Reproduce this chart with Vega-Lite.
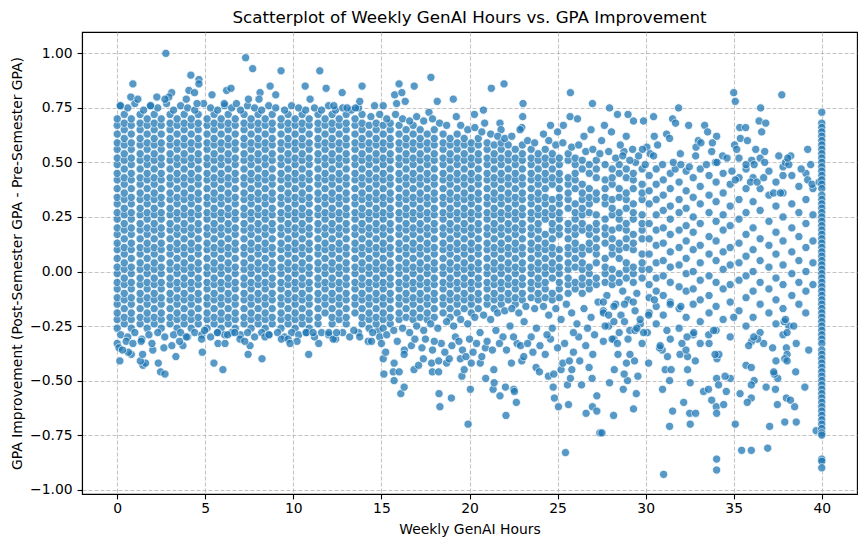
{
  "$schema": "https://vega.github.io/schema/vega-lite/v6.json",
  "width": 775,
  "height": 462,
  "autosize": "none",
  "padding": {"left": 82, "top": 32, "right": 9, "bottom": 53},
  "title": {
    "text": "Scatterplot of Weekly GenAI Hours vs. GPA Improvement",
    "fontSize": 16.7,
    "fontWeight": "normal",
    "color": "black",
    "offset": 5
  },
  "data": {
    "format": {"type": "csv", "parse": {"hours": "number", "gpa_change": "number"}},
    "values": "hours,gpa_change\n0,-0.26\n0,-0.22\n0,-0.19\n0,-0.15\n0,-0.12\n0,-0.08\n0,-0.05\n0,-0.01\n0,0.02\n0,0.06\n0,0.1\n0,0.13\n0,0.17\n0,0.2\n0,0.24\n0,0.27\n0,0.31\n0,0.34\n0,0.38\n0,0.42\n0,0.45\n0,0.49\n0,0.52\n0,0.56\n0,0.59\n0,0.63\n0,0.67\n0,0.7\n0.4,-0.24\n0.4,-0.21\n0.4,-0.17\n0.4,-0.13\n0.4,-0.1\n0.4,-0.06\n0.4,-0.03\n0.4,0.01\n0.4,0.04\n0.4,0.08\n0.4,0.11\n0.4,0.15\n0.4,0.19\n0.4,0.22\n0.4,0.26\n0.4,0.29\n0.4,0.33\n0.4,0.36\n0.4,0.4\n0.4,0.43\n0.4,0.47\n0.4,0.51\n0.4,0.54\n0.4,0.58\n0.4,0.61\n0.4,0.65\n0.4,0.68\n0.4,0.72\n0.8,-0.26\n0.8,-0.22\n0.8,-0.19\n0.8,-0.15\n0.8,-0.12\n0.8,-0.08\n0.8,-0.05\n0.8,-0.01\n0.8,0.02\n0.8,0.06\n0.8,0.1\n0.8,0.13\n0.8,0.17\n0.8,0.2\n0.8,0.24\n0.8,0.27\n0.8,0.31\n0.8,0.34\n0.8,0.38\n0.8,0.42\n0.8,0.45\n0.8,0.49\n0.8,0.52\n0.8,0.56\n0.8,0.59\n0.8,0.63\n0.8,0.67\n0.8,0.7\n1.3,-0.24\n1.3,-0.21\n1.3,-0.17\n1.3,-0.13\n1.3,-0.1\n1.3,-0.06\n1.3,-0.03\n1.3,0.01\n1.3,0.04\n1.3,0.08\n1.3,0.11\n1.3,0.15\n1.3,0.19\n1.3,0.22\n1.3,0.26\n1.3,0.29\n1.3,0.33\n1.3,0.36\n1.3,0.4\n1.3,0.43\n1.3,0.47\n1.3,0.51\n1.3,0.54\n1.3,0.58\n1.3,0.61\n1.3,0.65\n1.3,0.68\n1.3,0.72\n1.7,-0.26\n1.7,-0.22\n1.7,-0.19\n1.7,-0.15\n1.7,-0.12\n1.7,-0.08\n1.7,-0.05\n1.7,-0.01\n1.7,0.02\n1.7,0.06\n1.7,0.1\n1.7,0.13\n1.7,0.17\n1.7,0.2\n1.7,0.24\n1.7,0.27\n1.7,0.31\n1.7,0.34\n1.7,0.38\n1.7,0.42\n1.7,0.45\n1.7,0.49\n1.7,0.52\n1.7,0.56\n1.7,0.59\n1.7,0.63\n1.7,0.67\n1.7,0.7\n2.1,-0.24\n2.1,-0.21\n2.1,-0.17\n2.1,-0.13\n2.1,-0.1\n2.1,-0.06\n2.1,-0.03\n2.1,0.01\n2.1,0.04\n2.1,0.08\n2.1,0.11\n2.1,0.15\n2.1,0.19\n2.1,0.22\n2.1,0.26\n2.1,0.29\n2.1,0.33\n2.1,0.36\n2.1,0.4\n2.1,0.43\n2.1,0.47\n2.1,0.51\n2.1,0.54\n2.1,0.58\n2.1,0.61\n2.1,0.65\n2.1,0.68\n2.1,0.72\n2.5,-0.26\n2.5,-0.22\n2.5,-0.19\n2.5,-0.15\n2.5,-0.12\n2.5,-0.08\n2.5,-0.05\n2.5,-0.01\n2.5,0.02\n2.5,0.06\n2.5,0.1\n2.5,0.13\n2.5,0.17\n2.5,0.2\n2.5,0.24\n2.5,0.27\n2.5,0.31\n2.5,0.34\n2.5,0.38\n2.5,0.42\n2.5,0.45\n2.5,0.49\n2.5,0.52\n2.5,0.56\n2.5,0.59\n2.5,0.63\n2.5,0.67\n2.5,0.7\n3,-0.24\n3,-0.21\n3,-0.17\n3,-0.13\n3,-0.1\n3,-0.06\n3,-0.03\n3,0.01\n3,0.04\n3,0.08\n3,0.11\n3,0.15\n3,0.19\n3,0.22\n3,0.26\n3,0.29\n3,0.33\n3,0.36\n3,0.4\n3,0.43\n3,0.47\n3,0.51\n3,0.54\n3,0.58\n3,0.61\n3,0.65\n3,0.68\n3,0.72\n3.4,-0.26\n3.4,-0.22\n3.4,-0.19\n3.4,-0.15\n3.4,-0.12\n3.4,-0.08\n3.4,-0.05\n3.4,-0.01\n3.4,0.02\n3.4,0.06\n3.4,0.1\n3.4,0.13\n3.4,0.17\n3.4,0.2\n3.4,0.24\n3.4,0.27\n3.4,0.31\n3.4,0.34\n3.4,0.38\n3.4,0.42\n3.4,0.45\n3.4,0.49\n3.4,0.52\n3.4,0.56\n3.4,0.59\n3.4,0.63\n3.4,0.67\n3.4,0.7\n3.8,-0.24\n3.8,-0.21\n3.8,-0.17\n3.8,-0.13\n3.8,-0.1\n3.8,-0.06\n3.8,-0.03\n3.8,0.01\n3.8,0.04\n3.8,0.08\n3.8,0.11\n3.8,0.15\n3.8,0.19\n3.8,0.22\n3.8,0.26\n3.8,0.29\n3.8,0.33\n3.8,0.36\n3.8,0.4\n3.8,0.43\n3.8,0.47\n3.8,0.51\n3.8,0.54\n3.8,0.58\n3.8,0.61\n3.8,0.65\n3.8,0.68\n3.8,0.72\n4.2,-0.26\n4.2,-0.22\n4.2,-0.19\n4.2,-0.15\n4.2,-0.12\n4.2,-0.08\n4.2,-0.05\n4.2,-0.01\n4.2,0.02\n4.2,0.06\n4.2,0.1\n4.2,0.13\n4.2,0.17\n4.2,0.2\n4.2,0.24\n4.2,0.27\n4.2,0.31\n4.2,0.34\n4.2,0.38\n4.2,0.42\n4.2,0.45\n4.2,0.49\n4.2,0.52\n4.2,0.56\n4.2,0.59\n4.2,0.63\n4.2,0.67\n4.2,0.7\n4.6,-0.24\n4.6,-0.21\n4.6,-0.17\n4.6,-0.13\n4.6,-0.1\n4.6,-0.06\n4.6,-0.03\n4.6,0.01\n4.6,0.04\n4.6,0.08\n4.6,0.11\n4.6,0.15\n4.6,0.19\n4.6,0.22\n4.6,0.26\n4.6,0.29\n4.6,0.33\n4.6,0.36\n4.6,0.4\n4.6,0.43\n4.6,0.47\n4.6,0.51\n4.6,0.54\n4.6,0.58\n4.6,0.61\n4.6,0.65\n4.6,0.68\n4.6,0.72\n5.1,-0.26\n5.1,-0.22\n5.1,-0.19\n5.1,-0.15\n5.1,-0.12\n5.1,-0.08\n5.1,-0.05\n5.1,-0.01\n5.1,0.02\n5.1,0.06\n5.1,0.1\n5.1,0.13\n5.1,0.17\n5.1,0.2\n5.1,0.24\n5.1,0.27\n5.1,0.31\n5.1,0.34\n5.1,0.38\n5.1,0.42\n5.1,0.45\n5.1,0.49\n5.1,0.52\n5.1,0.56\n5.1,0.59\n5.1,0.63\n5.1,0.67\n5.1,0.7\n5.5,-0.24\n5.5,-0.21\n5.5,-0.17\n5.5,-0.13\n5.5,-0.1\n5.5,-0.06\n5.5,-0.03\n5.5,0.01\n5.5,0.04\n5.5,0.08\n5.5,0.11\n5.5,0.15\n5.5,0.19\n5.5,0.22\n5.5,0.26\n5.5,0.29\n5.5,0.33\n5.5,0.36\n5.5,0.4\n5.5,0.43\n5.5,0.47\n5.5,0.51\n5.5,0.54\n5.5,0.58\n5.5,0.61\n5.5,0.65\n5.5,0.68\n5.5,0.72\n5.9,-0.26\n5.9,-0.22\n5.9,-0.19\n5.9,-0.15\n5.9,-0.12\n5.9,-0.08\n5.9,-0.05\n5.9,-0.01\n5.9,0.02\n5.9,0.06\n5.9,0.1\n5.9,0.13\n5.9,0.17\n5.9,0.2\n5.9,0.24\n5.9,0.27\n5.9,0.31\n5.9,0.34\n5.9,0.38\n5.9,0.42\n5.9,0.45\n5.9,0.49\n5.9,0.52\n5.9,0.56\n5.9,0.59\n5.9,0.63\n5.9,0.67\n5.9,0.7\n6.3,-0.24\n6.3,-0.21\n6.3,-0.17\n6.3,-0.13\n6.3,-0.1\n6.3,-0.06\n6.3,-0.03\n6.3,0.01\n6.3,0.04\n6.3,0.08\n6.3,0.11\n6.3,0.15\n6.3,0.19\n6.3,0.22\n6.3,0.26\n6.3,0.29\n6.3,0.33\n6.3,0.36\n6.3,0.4\n6.3,0.43\n6.3,0.47\n6.3,0.51\n6.3,0.54\n6.3,0.58\n6.3,0.61\n6.3,0.65\n6.3,0.68\n6.3,0.72\n6.7,-0.26\n6.7,-0.22\n6.7,-0.19\n6.7,-0.15\n6.7,-0.12\n6.7,-0.08\n6.7,-0.05\n6.7,-0.01\n6.7,0.02\n6.7,0.06\n6.7,0.1\n6.7,0.13\n6.7,0.17\n6.7,0.2\n6.7,0.24\n6.7,0.27\n6.7,0.31\n6.7,0.34\n6.7,0.38\n6.7,0.42\n6.7,0.45\n6.7,0.49\n6.7,0.52\n6.7,0.56\n6.7,0.59\n6.7,0.63\n6.7,0.67\n6.7,0.7\n7.2,-0.24\n7.2,-0.21\n7.2,-0.17\n7.2,-0.13\n7.2,-0.1\n7.2,-0.06\n7.2,-0.03\n7.2,0.01\n7.2,0.04\n7.2,0.08\n7.2,0.11\n7.2,0.15\n7.2,0.19\n7.2,0.22\n7.2,0.26\n7.2,0.29\n7.2,0.33\n7.2,0.36\n7.2,0.4\n7.2,0.43\n7.2,0.47\n7.2,0.51\n7.2,0.54\n7.2,0.58\n7.2,0.61\n7.2,0.65\n7.2,0.68\n7.2,0.72\n7.6,-0.26\n7.6,-0.22\n7.6,-0.19\n7.6,-0.15\n7.6,-0.12\n7.6,-0.08\n7.6,-0.05\n7.6,-0.01\n7.6,0.02\n7.6,0.06\n7.6,0.1\n7.6,0.13\n7.6,0.17\n7.6,0.2\n7.6,0.24\n7.6,0.27\n7.6,0.31\n7.6,0.34\n7.6,0.38\n7.6,0.42\n7.6,0.45\n7.6,0.49\n7.6,0.52\n7.6,0.56\n7.6,0.59\n7.6,0.63\n7.6,0.67\n7.6,0.7\n8,-0.24\n8,-0.21\n8,-0.17\n8,-0.13\n8,-0.1\n8,-0.06\n8,-0.03\n8,0.01\n8,0.04\n8,0.08\n8,0.11\n8,0.15\n8,0.19\n8,0.22\n8,0.26\n8,0.29\n8,0.33\n8,0.36\n8,0.4\n8,0.43\n8,0.47\n8,0.51\n8,0.54\n8,0.58\n8,0.61\n8,0.65\n8,0.68\n8,0.72\n8.4,-0.26\n8.4,-0.22\n8.4,-0.19\n8.4,-0.15\n8.4,-0.12\n8.4,-0.08\n8.4,-0.05\n8.4,-0.01\n8.4,0.02\n8.4,0.06\n8.4,0.1\n8.4,0.13\n8.4,0.17\n8.4,0.2\n8.4,0.24\n8.4,0.27\n8.4,0.31\n8.4,0.34\n8.4,0.38\n8.4,0.42\n8.4,0.45\n8.4,0.49\n8.4,0.52\n8.4,0.56\n8.4,0.59\n8.4,0.63\n8.4,0.67\n8.4,0.7\n8.8,-0.24\n8.8,-0.21\n8.8,-0.17\n8.8,-0.13\n8.8,-0.1\n8.8,-0.06\n8.8,-0.03\n8.8,0.01\n8.8,0.04\n8.8,0.08\n8.8,0.11\n8.8,0.15\n8.8,0.19\n8.8,0.22\n8.8,0.26\n8.8,0.29\n8.8,0.33\n8.8,0.36\n8.8,0.4\n8.8,0.43\n8.8,0.47\n8.8,0.51\n8.8,0.54\n8.8,0.58\n8.8,0.61\n8.8,0.65\n8.8,0.68\n8.8,0.72\n9.3,-0.26\n9.3,-0.22\n9.3,-0.19\n9.3,-0.15\n9.3,-0.12\n9.3,-0.08\n9.3,-0.05\n9.3,-0.01\n9.3,0.02\n9.3,0.06\n9.3,0.1\n9.3,0.13\n9.3,0.17\n9.3,0.2\n9.3,0.24\n9.3,0.27\n9.3,0.31\n9.3,0.34\n9.3,0.38\n9.3,0.42\n9.3,0.45\n9.3,0.49\n9.3,0.52\n9.3,0.56\n9.3,0.59\n9.3,0.63\n9.3,0.67\n9.3,0.7\n9.7,-0.24\n9.7,-0.21\n9.7,-0.17\n9.7,-0.13\n9.7,-0.1\n9.7,-0.06\n9.7,-0.03\n9.7,0.01\n9.7,0.04\n9.7,0.08\n9.7,0.11\n9.7,0.15\n9.7,0.19\n9.7,0.22\n9.7,0.26\n9.7,0.29\n9.7,0.33\n9.7,0.36\n9.7,0.4\n9.7,0.43\n9.7,0.47\n9.7,0.51\n9.7,0.54\n9.7,0.58\n9.7,0.61\n9.7,0.65\n9.7,0.68\n9.7,0.72\n10.1,-0.26\n10.1,-0.22\n10.1,-0.19\n10.1,-0.15\n10.1,-0.12\n10.1,-0.08\n10.1,-0.05\n10.1,-0.01\n10.1,0.02\n10.1,0.06\n10.1,0.1\n10.1,0.13\n10.1,0.17\n10.1,0.2\n10.1,0.24\n10.1,0.27\n10.1,0.31\n10.1,0.34\n10.1,0.38\n10.1,0.42\n10.1,0.45\n10.1,0.49\n10.1,0.52\n10.1,0.56\n10.1,0.59\n10.1,0.63\n10.1,0.67\n10.1,0.7\n10.5,-0.24\n10.5,-0.21\n10.5,-0.17\n10.5,-0.13\n10.5,-0.1\n10.5,-0.06\n10.5,-0.03\n10.5,0.01\n10.5,0.04\n10.5,0.08\n10.5,0.11\n10.5,0.15\n10.5,0.19\n10.5,0.22\n10.5,0.26\n10.5,0.29\n10.5,0.33\n10.5,0.36\n10.5,0.4\n10.5,0.43\n10.5,0.47\n10.5,0.51\n10.5,0.54\n10.5,0.58\n10.5,0.61\n10.5,0.65\n10.5,0.68\n10.5,0.72\n10.9,-0.26\n10.9,-0.22\n10.9,-0.19\n10.9,-0.15\n10.9,-0.12\n10.9,-0.08\n10.9,-0.05\n10.9,-0.01\n10.9,0.02\n10.9,0.06\n10.9,0.1\n10.9,0.13\n10.9,0.17\n10.9,0.2\n10.9,0.24\n10.9,0.27\n10.9,0.31\n10.9,0.34\n10.9,0.38\n10.9,0.42\n10.9,0.45\n10.9,0.49\n10.9,0.52\n10.9,0.56\n10.9,0.59\n10.9,0.63\n10.9,0.67\n10.9,0.7\n11.4,-0.24\n11.4,-0.21\n11.4,-0.17\n11.4,-0.13\n11.4,-0.1\n11.4,-0.06\n11.4,-0.03\n11.4,0.01\n11.4,0.04\n11.4,0.08\n11.4,0.11\n11.4,0.15\n11.4,0.19\n11.4,0.22\n11.4,0.26\n11.4,0.29\n11.4,0.33\n11.4,0.36\n11.4,0.4\n11.4,0.43\n11.4,0.47\n11.4,0.51\n11.4,0.54\n11.4,0.58\n11.4,0.61\n11.4,0.65\n11.4,0.68\n11.4,0.72\n11.8,-0.19\n11.8,-0.15\n11.8,-0.12\n11.8,-0.08\n11.8,-0.05\n11.8,-0.01\n11.8,0.02\n11.8,0.06\n11.8,0.1\n11.8,0.13\n11.8,0.17\n11.8,0.2\n11.8,0.24\n11.8,0.27\n11.8,0.31\n11.8,0.34\n11.8,0.38\n11.8,0.42\n11.8,0.45\n11.8,0.49\n11.8,0.52\n11.8,0.56\n11.8,0.59\n11.8,0.63\n11.8,0.67\n11.8,0.7\n12.2,-0.24\n12.2,-0.21\n12.2,-0.17\n12.2,-0.13\n12.2,-0.1\n12.2,-0.06\n12.2,-0.03\n12.2,0.01\n12.2,0.04\n12.2,0.08\n12.2,0.11\n12.2,0.15\n12.2,0.19\n12.2,0.22\n12.2,0.26\n12.2,0.29\n12.2,0.33\n12.2,0.36\n12.2,0.4\n12.2,0.43\n12.2,0.47\n12.2,0.51\n12.2,0.54\n12.2,0.58\n12.2,0.61\n12.2,0.65\n12.2,0.68\n12.2,0.72\n12.6,-0.22\n12.6,-0.19\n12.6,-0.15\n12.6,-0.12\n12.6,-0.08\n12.6,-0.05\n12.6,-0.01\n12.6,0.02\n12.6,0.06\n12.6,0.1\n12.6,0.13\n12.6,0.17\n12.6,0.2\n12.6,0.24\n12.6,0.27\n12.6,0.31\n12.6,0.34\n12.6,0.38\n12.6,0.42\n12.6,0.45\n12.6,0.49\n12.6,0.52\n12.6,0.56\n12.6,0.59\n12.6,0.63\n12.6,0.67\n12.6,0.7\n13,-0.24\n13,-0.21\n13,-0.17\n13,-0.13\n13,-0.1\n13,-0.06\n13,-0.03\n13,0.01\n13,0.04\n13,0.08\n13,0.11\n13,0.15\n13,0.19\n13,0.22\n13,0.26\n13,0.29\n13,0.33\n13,0.36\n13,0.4\n13,0.43\n13,0.47\n13,0.51\n13,0.54\n13,0.58\n13,0.61\n13,0.65\n13,0.68\n13,0.72\n13.5,-0.19\n13.5,-0.15\n13.5,-0.12\n13.5,-0.08\n13.5,-0.05\n13.5,-0.01\n13.5,0.02\n13.5,0.06\n13.5,0.1\n13.5,0.13\n13.5,0.17\n13.5,0.2\n13.5,0.24\n13.5,0.27\n13.5,0.31\n13.5,0.34\n13.5,0.38\n13.5,0.42\n13.5,0.45\n13.5,0.49\n13.5,0.52\n13.5,0.56\n13.5,0.59\n13.5,0.63\n13.5,0.67\n13.5,0.7\n13.9,-0.24\n13.9,-0.21\n13.9,-0.17\n13.9,-0.13\n13.9,-0.1\n13.9,-0.06\n13.9,-0.03\n13.9,0.01\n13.9,0.04\n13.9,0.08\n13.9,0.11\n13.9,0.15\n13.9,0.19\n13.9,0.22\n13.9,0.26\n13.9,0.29\n13.9,0.33\n13.9,0.36\n13.9,0.4\n13.9,0.43\n13.9,0.47\n13.9,0.51\n13.9,0.54\n13.9,0.58\n13.9,0.61\n13.9,0.65\n13.9,0.68\n13.9,0.72\n0.2,0.76\n0.6,0.75\n1,0.77\n1.5,0.74\n1.9,0.76\n2.3,0.75\n2.8,0.77\n3.2,0.74\n3.6,0.76\n4,0.75\n4.4,0.74\n4.9,0.77\n5.3,0.75\n5.7,0.74\n6.1,0.76\n6.5,0.75\n7,0.74\n7.4,0.76\n7.8,0.75\n8.2,0.74\n8.6,0.76\n9,0.75\n9.5,0.74\n9.9,0.76\n10.3,0.75\n10.7,0.74\n11.2,0.75\n11.6,0.74\n12,0.76\n12.4,0.74\n12.8,0.75\n13.3,0.74\n13.7,0.75\n2.76,1\n0.89,0.86\n0.77,0.8\n1.17,0.79\n4.18,0.9\n4.64,0.88\n4.64,0.86\n4.07,0.83\n4.39,0.82\n4.53,0.77\n3.92,0.79\n3.09,0.82\n2.93,0.8\n2.71,0.79\n2.25,0.8\n5.38,0.81\n6.21,0.83\n6.46,0.84\n7.29,0.98\n7.69,0.93\n9.3,0.92\n8.11,0.82\n8.05,0.79\n8.68,0.85\n9,0.81\n7.45,0.79\n10.67,0.85\n11.5,0.92\n11.86,0.84\n10.95,0.79\n12.3,0.76\n6.08,0.77\n6.77,0.77\n0.17,0.76\n1.89,0.76\n12.77,0.82\n13.9,0.85\n13.05,0.75\n13.53,0.75\n13.77,0.78\n0.2,-0.29\n0.6,-0.3\n1,-0.28\n1.4,-0.31\n1.8,-0.29\n2.3,-0.28\n2.7,-0.3\n3.2,-0.29\n3.6,-0.28\n4,-0.3\n4.4,-0.28\n4.8,-0.29\n5.3,-0.3\n5.7,-0.28\n6.1,-0.29\n6.5,-0.28\n7,-0.29\n7.4,-0.28\n7.8,-0.3\n8.2,-0.28\n8.6,-0.29\n9.1,-0.28\n9.5,-0.3\n9.9,-0.28\n10.3,-0.29\n10.7,-0.28\n11.2,-0.3\n11.6,-0.28\n12,-0.29\n12.4,-0.31\n12.8,-0.28\n13.2,-0.3\n13.7,-0.28\n0.15,-0.41\n1.46,-0.43\n1.61,-0.42\n1.31,-0.41\n1.44,-0.38\n0.8,-0.38\n0.63,-0.37\n2.33,-0.42\n2.46,-0.46\n2.71,-0.47\n3.33,-0.39\n2.65,-0.35\n2.02,-0.36\n4.83,-0.37\n5.49,-0.42\n6,-0.45\n5.72,-0.33\n6.12,-0.33\n4.79,-0.31\n3.73,-0.34\n3.1,-0.34\n7.43,-0.38\n8.22,-0.4\n7.54,-0.34\n6.97,-0.31\n7.24,-0.32\n8.39,-0.3\n8.62,-0.29\n9.32,-0.31\n9.7,-0.31\n10.21,-0.32\n9.81,-0.33\n10.87,-0.38\n10.74,-0.28\n11.12,-0.28\n11.44,-0.33\n12.01,-0.28\n12.26,-0.31\n12.45,-0.28\n0.51,-0.32\n0,-0.33\n0.89,-0.33\n1.36,-0.32\n1.97,-0.33\n3.54,-0.32\n3.92,-0.3\n4.96,-0.27\n5.69,-0.28\n6.27,-0.29\n6.67,-0.28\n13.77,-0.3\n14.25,-0.32\n14.44,-0.32\n14.82,-0.27\n13.43,-0.27\n0.1,-0.35\n0.3,-0.36\n14.3,-0.26\n14.3,-0.22\n14.3,-0.19\n14.3,-0.15\n14.3,-0.12\n14.3,-0.08\n14.3,-0.05\n14.3,-0.01\n14.3,0.02\n14.3,0.06\n14.3,0.1\n14.3,0.13\n14.3,0.17\n14.3,0.2\n14.3,0.24\n14.3,0.27\n14.3,0.31\n14.3,0.34\n14.3,0.38\n14.3,0.42\n14.3,0.45\n14.3,0.49\n14.3,0.52\n14.3,0.56\n14.3,0.59\n14.3,0.63\n14.3,0.67\n14.7,-0.24\n14.7,-0.21\n14.7,-0.17\n14.7,-0.13\n14.7,-0.1\n14.7,-0.06\n14.7,-0.03\n14.7,0.01\n14.7,0.04\n14.7,0.08\n14.7,0.11\n14.7,0.15\n14.7,0.19\n14.7,0.22\n14.7,0.26\n14.7,0.29\n14.7,0.33\n14.7,0.36\n14.7,0.4\n14.7,0.43\n14.7,0.47\n14.7,0.51\n14.7,0.54\n14.7,0.58\n14.7,0.61\n14.7,0.65\n14.7,0.68\n15.1,-0.26\n15.1,-0.22\n15.1,-0.19\n15.1,-0.15\n15.1,-0.12\n15.1,-0.08\n15.1,-0.05\n15.1,-0.01\n15.1,0.02\n15.1,0.06\n15.1,0.1\n15.1,0.13\n15.1,0.17\n15.1,0.2\n15.1,0.24\n15.1,0.27\n15.1,0.31\n15.1,0.34\n15.1,0.38\n15.1,0.42\n15.1,0.45\n15.1,0.49\n15.1,0.52\n15.1,0.56\n15.1,0.59\n15.1,0.63\n15.1,0.67\n15.5,-0.24\n15.5,-0.21\n15.5,-0.17\n15.5,-0.13\n15.5,-0.1\n15.5,-0.06\n15.5,-0.03\n15.5,0.01\n15.5,0.04\n15.5,0.08\n15.5,0.11\n15.5,0.15\n15.5,0.19\n15.5,0.22\n15.5,0.26\n15.5,0.29\n15.5,0.33\n15.5,0.36\n15.5,0.4\n15.5,0.43\n15.5,0.47\n15.5,0.51\n15.5,0.54\n15.5,0.58\n15.5,0.61\n15.5,0.65\n15.5,0.68\n16,-0.22\n16,-0.19\n16,-0.15\n16,-0.12\n16,-0.08\n16,-0.05\n16,-0.01\n16,0.02\n16,0.06\n16,0.1\n16,0.13\n16,0.17\n16,0.2\n16,0.24\n16,0.27\n16,0.31\n16,0.34\n16,0.38\n16,0.42\n16,0.45\n16,0.49\n16,0.52\n16,0.56\n16,0.59\n16,0.63\n16,0.67\n16.4,-0.21\n16.4,-0.17\n16.4,-0.13\n16.4,-0.1\n16.4,-0.06\n16.4,-0.03\n16.4,0.01\n16.4,0.04\n16.4,0.08\n16.4,0.11\n16.4,0.15\n16.4,0.19\n16.4,0.22\n16.4,0.26\n16.4,0.29\n16.4,0.33\n16.4,0.36\n16.4,0.4\n16.4,0.43\n16.4,0.47\n16.4,0.51\n16.4,0.54\n16.4,0.58\n16.4,0.61\n16.4,0.65\n16.8,-0.22\n16.8,-0.19\n16.8,-0.15\n16.8,-0.12\n16.8,-0.08\n16.8,-0.05\n16.8,-0.01\n16.8,0.02\n16.8,0.06\n16.8,0.1\n16.8,0.13\n16.8,0.17\n16.8,0.2\n16.8,0.24\n16.8,0.27\n16.8,0.31\n16.8,0.34\n16.8,0.38\n16.8,0.42\n16.8,0.45\n16.8,0.49\n16.8,0.52\n16.8,0.56\n16.8,0.59\n16.8,0.63\n16.8,0.67\n17.2,-0.21\n17.2,-0.17\n17.2,-0.13\n17.2,-0.1\n17.2,-0.06\n17.2,-0.03\n17.2,0.01\n17.2,0.04\n17.2,0.08\n17.2,0.11\n17.2,0.15\n17.2,0.19\n17.2,0.22\n17.2,0.26\n17.2,0.29\n17.2,0.33\n17.2,0.36\n17.2,0.4\n17.2,0.43\n17.2,0.47\n17.2,0.51\n17.2,0.54\n17.2,0.58\n17.2,0.61\n17.2,0.65\n17.6,-0.22\n17.6,-0.19\n17.6,-0.15\n17.6,-0.12\n17.6,-0.08\n17.6,-0.05\n17.6,-0.01\n17.6,0.02\n17.6,0.06\n17.6,0.1\n17.6,0.13\n17.6,0.17\n17.6,0.2\n17.6,0.24\n17.6,0.27\n17.6,0.31\n17.6,0.34\n17.6,0.38\n17.6,0.42\n17.6,0.45\n17.6,0.49\n17.6,0.52\n17.6,0.56\n17.6,0.59\n17.6,0.63\n18,-0.21\n18,-0.17\n18,-0.13\n18,-0.1\n18,-0.06\n18,-0.03\n18,0.01\n18,0.04\n18,0.08\n18,0.11\n18,0.15\n18,0.19\n18,0.22\n18,0.26\n18,0.29\n18,0.33\n18,0.36\n18,0.4\n18,0.43\n18,0.47\n18,0.51\n18,0.54\n18,0.58\n18,0.61\n18,0.65\n18.5,-0.19\n18.5,-0.15\n18.5,-0.12\n18.5,-0.08\n18.5,-0.05\n18.5,-0.01\n18.5,0.02\n18.5,0.06\n18.5,0.1\n18.5,0.13\n18.5,0.17\n18.5,0.2\n18.5,0.24\n18.5,0.27\n18.5,0.31\n18.5,0.34\n18.5,0.38\n18.5,0.42\n18.5,0.45\n18.5,0.49\n18.5,0.52\n18.5,0.56\n18.5,0.59\n18.5,0.63\n18.9,-0.21\n18.9,-0.17\n18.9,-0.13\n18.9,-0.1\n18.9,-0.06\n18.9,-0.03\n18.9,0.01\n18.9,0.04\n18.9,0.08\n18.9,0.11\n18.9,0.15\n18.9,0.19\n18.9,0.22\n18.9,0.26\n18.9,0.29\n18.9,0.33\n18.9,0.36\n18.9,0.4\n18.9,0.43\n18.9,0.47\n18.9,0.51\n18.9,0.54\n18.9,0.58\n18.9,0.61\n19.3,-0.19\n19.3,-0.15\n19.3,-0.12\n19.3,-0.08\n19.3,-0.05\n19.3,-0.01\n19.3,0.02\n19.3,0.06\n19.3,0.1\n19.3,0.13\n19.3,0.17\n19.3,0.2\n19.3,0.24\n19.3,0.27\n19.3,0.31\n19.3,0.34\n19.3,0.38\n19.3,0.42\n19.3,0.45\n19.3,0.49\n19.3,0.52\n19.3,0.56\n19.3,0.59\n19.3,0.63\n19.7,-0.17\n19.7,-0.13\n19.7,-0.1\n19.7,-0.06\n19.7,-0.03\n19.7,0.01\n19.7,0.04\n19.7,0.08\n19.7,0.11\n19.7,0.15\n19.7,0.19\n19.7,0.22\n19.7,0.26\n19.7,0.29\n19.7,0.33\n19.7,0.36\n19.7,0.4\n19.7,0.43\n19.7,0.47\n19.7,0.51\n19.7,0.54\n19.7,0.58\n19.7,0.61\n20.1,-0.19\n20.1,-0.15\n20.1,-0.12\n20.1,-0.08\n20.1,-0.05\n20.1,-0.01\n20.1,0.02\n20.1,0.06\n20.1,0.1\n20.1,0.13\n20.1,0.17\n20.1,0.2\n20.1,0.24\n20.1,0.27\n20.1,0.31\n20.1,0.34\n20.1,0.38\n20.1,0.42\n20.1,0.45\n20.1,0.49\n20.1,0.52\n20.1,0.56\n20.1,0.59\n20.5,-0.17\n20.5,-0.13\n20.5,-0.1\n20.5,-0.06\n20.5,-0.03\n20.5,0.01\n20.5,0.04\n20.5,0.08\n20.5,0.11\n20.5,0.15\n20.5,0.19\n20.5,0.22\n20.5,0.26\n20.5,0.29\n20.5,0.33\n20.5,0.36\n20.5,0.4\n20.5,0.43\n20.5,0.47\n20.5,0.51\n20.5,0.54\n20.5,0.58\n20.5,0.61\n21,-0.15\n21,-0.12\n21,-0.08\n21,-0.05\n21,-0.01\n21,0.02\n21,0.06\n21,0.1\n21,0.13\n21,0.17\n21,0.2\n21,0.24\n21,0.27\n21,0.31\n21,0.34\n21,0.38\n21,0.42\n21,0.45\n21,0.49\n21,0.52\n21,0.56\n21,0.59\n21.4,-0.17\n21.4,-0.13\n21.4,-0.1\n21.4,-0.06\n21.4,-0.03\n21.4,0.01\n21.4,0.04\n21.4,0.08\n21.4,0.11\n21.4,0.15\n21.4,0.19\n21.4,0.22\n21.4,0.26\n21.4,0.29\n21.4,0.33\n21.4,0.36\n21.4,0.4\n21.4,0.43\n21.4,0.47\n21.4,0.51\n21.4,0.54\n21.4,0.58\n21.8,-0.15\n21.8,-0.12\n21.8,-0.08\n21.8,-0.05\n21.8,-0.01\n21.8,0.02\n21.8,0.06\n21.8,0.1\n21.8,0.13\n21.8,0.17\n21.8,0.2\n21.8,0.24\n21.8,0.27\n21.8,0.31\n21.8,0.34\n21.8,0.38\n21.8,0.42\n21.8,0.45\n21.8,0.49\n21.8,0.52\n21.8,0.56\n21.8,0.59\n22.2,-0.13\n22.2,-0.1\n22.2,-0.06\n22.2,-0.03\n22.2,0.01\n22.2,0.04\n22.2,0.08\n22.2,0.11\n22.2,0.15\n22.2,0.19\n22.2,0.22\n22.2,0.26\n22.2,0.29\n22.2,0.33\n22.2,0.36\n22.2,0.4\n22.2,0.43\n22.2,0.47\n22.2,0.51\n22.2,0.54\n22.2,0.58\n22.6,-0.15\n22.6,-0.12\n22.6,-0.08\n22.6,-0.05\n22.6,-0.01\n22.6,0.02\n22.6,0.06\n22.6,0.1\n22.6,0.13\n22.6,0.17\n22.6,0.2\n22.6,0.24\n22.6,0.27\n22.6,0.31\n22.6,0.34\n22.6,0.38\n22.6,0.42\n22.6,0.45\n22.6,0.49\n22.6,0.52\n22.6,0.56\n23,-0.13\n23,-0.1\n23,-0.06\n23,-0.03\n23,0.01\n23,0.04\n23,0.08\n23,0.11\n23,0.15\n23,0.19\n23,0.22\n23,0.26\n23,0.29\n23,0.33\n23,0.36\n23,0.4\n23,0.43\n23,0.47\n23,0.51\n23,0.54\n23,0.58\n23.5,-0.12\n23.5,-0.08\n23.5,-0.05\n23.5,-0.01\n23.5,0.02\n23.5,0.06\n23.5,0.1\n23.5,0.13\n23.5,0.17\n23.5,0.2\n23.5,0.24\n23.5,0.27\n23.5,0.31\n23.5,0.34\n23.5,0.38\n23.5,0.42\n23.5,0.45\n23.5,0.49\n23.5,0.52\n23.5,0.56\n23.9,-0.13\n23.9,-0.1\n23.9,-0.06\n23.9,-0.03\n23.9,0.01\n23.9,0.04\n23.9,0.08\n23.9,0.11\n23.9,0.15\n23.9,0.19\n23.9,0.22\n23.9,0.26\n23.9,0.29\n23.9,0.33\n23.9,0.36\n23.9,0.4\n23.9,0.43\n23.9,0.47\n23.9,0.51\n23.9,0.54\n16,0.86\n15.75,0.81\n16.16,0.82\n15.86,0.77\n16.35,0.78\n16.86,0.85\n17.81,0.89\n18.17,0.78\n19.08,0.79\n21.24,0.84\n21.96,0.86\n23.04,0.77\n23.02,0.71\n22.97,0.66\n22.87,0.65\n17.7,0.73\n20.79,0.74\n20.28,0.72\n20.86,0.68\n21.73,0.68\n21.79,0.65\n19.25,0.71\n14.61,0.76\n15.1,0.76\n14.4,0.71\n14.9,0.72\n15.3,0.7\n15.8,0.72\n16.2,0.7\n16.6,0.69\n17,0.71\n17.4,0.69\n17.9,0.7\n18.3,0.68\n18.7,0.67\n19.5,0.67\n19.9,0.65\n20.3,0.66\n20.7,0.64\n21.2,0.63\n21.6,0.62\n22,0.61\n22.4,0.62\n23.3,0.6\n23.7,0.59\n14.5,-0.28\n14.9,-0.3\n15.3,-0.29\n15.7,-0.27\n16.2,-0.26\n16.6,-0.28\n17,-0.25\n17.4,-0.27\n17.8,-0.24\n18.2,-0.26\n18.7,-0.23\n19.1,-0.25\n19.5,-0.22\n19.9,-0.24\n20.3,-0.21\n20.8,-0.2\n21.2,-0.22\n21.6,-0.19\n22,-0.18\n22.4,-0.17\n22.8,-0.19\n23.2,-0.16\n23.7,-0.17\n15,-0.33\n15.9,-0.32\n16.7,-0.34\n17.5,-0.31\n18.4,-0.33\n19.2,-0.3\n20,-0.31\n20.6,-0.28\n21.5,-0.27\n22.3,-0.25\n23.1,-0.23\n23.8,-0.26\n21.9,-0.3\n20.9,-0.35\n17.9,-0.36\n16.3,-0.36\n19.6,-0.36\n22.7,-0.33\n23.5,-0.3\n19.92,-0.7\n25.45,-0.83\n22.07,-0.66\n18.32,-0.62\n18.27,-0.56\n18.97,-0.58\n16.1,-0.56\n16.29,-0.53\n15.72,-0.5\n15.14,-0.47\n15.67,-0.46\n16.01,-0.46\n15.72,-0.42\n15.1,-0.4\n15.24,-0.37\n16.29,-0.38\n16.85,-0.45\n17.11,-0.43\n17.38,-0.4\n17.85,-0.42\n17.89,-0.46\n18.25,-0.46\n18.25,-0.41\n18.7,-0.42\n18.85,-0.4\n19.48,-0.4\n19.57,-0.48\n19.7,-0.45\n20.05,-0.54\n20.1,-0.42\n20.61,-0.42\n20.92,-0.49\n21.34,-0.54\n21.4,-0.51\n21.38,-0.45\n21.73,-0.57\n22.04,-0.53\n22.51,-0.54\n22.55,-0.55\n22.66,-0.6\n22.38,-0.42\n22.97,-0.41\n23.08,-0.39\n23.78,-0.44\n23.97,-0.46\n24.48,-0.48\n24.79,-0.47\n24.75,-0.53\n24.82,-0.58\n25.05,-0.62\n25.62,-0.61\n25.56,-0.52\n25.73,-0.49\n25.81,-0.45\n25.2,-0.45\n25.3,-0.42\n25.67,-0.41\n26.26,-0.41\n26.36,-0.52\n26.62,-0.65\n26.79,-0.44\n26.96,-0.49\n26.98,-0.62\n27.23,-0.57\n27.23,-0.64\n27.4,-0.74\n16.9,-0.31\n17.3,-0.35\n18,-0.32\n18.6,-0.37\n19,-0.34\n19.4,-0.32\n19.8,-0.39\n20.4,-0.33\n20.2,-0.37\n20.7,-0.39\n21,-0.32\n21.3,-0.36\n21.7,-0.33\n22.1,-0.36\n22.5,-0.3\n22.9,-0.34\n23.3,-0.33\n23.6,-0.37\n24,-0.34\n24.3,-0.38\n24.6,-0.31\n25,-0.35\n25.4,-0.33\n25.9,-0.37\n26.2,-0.3\n26.6,-0.34\n27,-0.38\n24.3,-0.12\n24.3,-0.08\n24.3,-0.05\n24.3,-0.01\n24.3,0.02\n24.3,0.06\n24.3,0.1\n24.3,0.13\n24.3,0.17\n24.3,0.24\n24.3,0.27\n24.3,0.31\n24.3,0.34\n24.3,0.38\n24.3,0.42\n24.3,0.45\n24.3,0.49\n24.3,0.52\n24.3,0.56\n24.7,-0.13\n24.7,-0.1\n24.7,-0.03\n24.7,0.01\n24.7,0.04\n24.7,0.08\n24.7,0.11\n24.7,0.15\n24.7,0.19\n24.7,0.22\n24.7,0.26\n24.7,0.29\n24.7,0.33\n24.7,0.4\n24.7,0.43\n24.7,0.47\n24.7,0.51\n24.7,0.54\n25.1,-0.12\n25.1,-0.08\n25.1,-0.05\n25.1,-0.01\n25.1,0.02\n25.1,0.06\n25.1,0.1\n25.1,0.17\n25.1,0.2\n25.1,0.24\n25.1,0.27\n25.1,0.31\n25.1,0.34\n25.1,0.38\n25.1,0.42\n25.1,0.45\n25.1,0.49\n25.1,0.52\n25.6,-0.1\n25.6,-0.06\n25.6,-0.03\n25.6,0.01\n25.6,0.04\n25.6,0.08\n25.6,0.11\n25.6,0.15\n25.6,0.19\n25.6,0.22\n25.6,0.29\n25.6,0.33\n25.6,0.36\n25.6,0.4\n25.6,0.43\n25.6,0.51\n25.6,0.54\n26,-0.08\n26,-0.05\n26,0.02\n26,0.06\n26,0.1\n26,0.13\n26,0.17\n26,0.2\n26,0.24\n26,0.27\n26,0.31\n26,0.38\n26,0.42\n26,0.45\n26,0.49\n26,0.52\n26.4,-0.1\n26.4,-0.06\n26.4,-0.03\n26.4,0.01\n26.4,0.04\n26.4,0.08\n26.4,0.11\n26.4,0.19\n26.4,0.22\n26.4,0.26\n26.4,0.29\n26.4,0.33\n26.4,0.36\n26.4,0.4\n26.4,0.47\n26.4,0.51\n26.8,-0.08\n26.8,-0.05\n26.8,-0.01\n26.8,0.02\n26.8,0.1\n26.8,0.13\n26.8,0.17\n26.8,0.2\n26.8,0.27\n26.8,0.31\n26.8,0.34\n26.8,0.38\n26.8,0.45\n26.8,0.49\n27.2,-0.06\n27.2,-0.03\n27.2,0.04\n27.2,0.08\n27.2,0.11\n27.2,0.15\n27.2,0.19\n27.2,0.22\n27.2,0.26\n27.2,0.33\n27.2,0.36\n27.2,0.43\n27.2,0.47\n27.2,0.51\n27.7,-0.05\n27.7,-0.01\n27.7,0.02\n27.7,0.06\n27.7,0.13\n27.7,0.17\n27.7,0.2\n27.7,0.24\n27.7,0.31\n27.7,0.34\n27.7,0.38\n27.7,0.42\n27.7,0.49\n28.1,-0.06\n28.1,-0.03\n28.1,0.01\n28.1,0.08\n28.1,0.11\n28.1,0.15\n28.1,0.19\n28.1,0.26\n28.1,0.29\n28.1,0.33\n28.1,0.4\n28.1,0.43\n28.1,0.47\n28.5,-0.05\n28.5,-0.01\n28.5,0.06\n28.5,0.1\n28.5,0.13\n28.5,0.2\n28.5,0.24\n28.5,0.27\n28.5,0.34\n28.5,0.38\n28.5,0.45\n28.5,0.49\n28.9,-0.03\n28.9,0.01\n28.9,0.04\n28.9,0.11\n28.9,0.15\n28.9,0.19\n28.9,0.22\n28.9,0.29\n28.9,0.33\n28.9,0.36\n28.9,0.43\n28.9,0.47\n29.3,-0.05\n29.3,-0.01\n29.3,0.02\n29.3,0.1\n29.3,0.13\n29.3,0.17\n29.3,0.24\n29.3,0.27\n29.3,0.31\n29.3,0.38\n29.3,0.42\n29.3,0.45\n29.8,-0.03\n29.8,0.01\n29.8,0.04\n29.8,0.08\n29.8,0.15\n29.8,0.19\n29.8,0.22\n29.8,0.26\n29.8,0.33\n29.8,0.36\n29.8,0.4\n29.8,0.47\n25.73,0.82\n25.71,0.71\n26.13,0.7\n26.98,0.77\n25.33,0.67\n27.95,0.75\n28.4,0.72\n29,0.72\n29.31,0.69\n29.88,0.69\n27.66,0.67\n28.06,0.64\n28.9,0.62\n28.77,0.55\n29.26,0.56\n28.56,0.58\n29.43,0.5\n29.98,0.49\n24.5,0.6\n24.9,0.58\n25.3,0.59\n25.8,0.57\n26.2,0.58\n26.6,0.55\n27,0.56\n27.4,0.54\n27.9,0.55\n28.3,0.52\n28.7,0.53\n29.1,0.51\n29.6,0.53\n24.2,0.63\n25,0.64\n26.5,0.62\n27.5,0.6\n24.6,0.67\n26.9,0.65\n24.2,-0.16\n24.5,-0.2\n24.9,-0.17\n25.2,-0.22\n25.5,-0.15\n25.8,-0.19\n26.1,-0.24\n26.5,-0.17\n26.9,-0.21\n27.3,-0.14\n27.6,-0.18\n27.9,-0.25\n28.3,-0.15\n28.6,-0.2\n29,-0.13\n29.4,-0.18\n29.7,-0.24\n24.7,-0.26\n25.9,-0.28\n27.1,-0.29\n28.2,-0.31\n29.1,-0.27\n24.4,-0.29\n26.7,-0.26\n28.8,-0.23\n27.8,-0.11\n28.7,-0.09\n29.5,-0.1\n28.18,-0.66\n27.52,-0.74\n27.95,-0.51\n28.73,-0.54\n28.97,-0.5\n28.78,-0.47\n28.22,-0.45\n28.91,-0.42\n29.37,-0.41\n29.11,-0.38\n28.43,-0.38\n29.56,-0.48\n29.47,-0.56\n29.31,-0.63\n30.17,-0.42\n27.6,-0.19\n27.9,-0.2\n28.2,-0.23\n27.7,-0.25\n27.6,-0.32\n28.1,-0.31\n28.4,-0.33\n28.5,-0.28\n29,-0.31\n29.4,-0.27\n29.8,-0.33\n30.1,-0.28\n30.2,0.44\n30.2,0.37\n30.2,0.31\n30.2,0.22\n30.2,0.15\n30.2,0.08\n30.2,0.01\n30.2,-0.06\n30.2,-0.12\n30.2,-0.19\n30.6,0.47\n30.6,0.4\n30.6,0.33\n30.6,0.26\n30.6,0.19\n30.6,0.12\n30.6,0.04\n30.6,-0.03\n30.6,-0.09\n30.6,-0.16\n30.6,-0.24\n31,0.42\n31,0.35\n31,0.28\n31,0.2\n31,0.13\n31,0.05\n31,-0.02\n31,-0.11\n31,-0.2\n31.4,0.45\n31.4,0.38\n31.4,0.3\n31.4,0.24\n31.4,0.17\n31.4,0.09\n31.4,0.02\n31.4,-0.05\n31.4,-0.14\n31.4,-0.31\n31.9,0.41\n31.9,0.33\n31.9,0.27\n31.9,0.19\n31.9,0.11\n31.9,0.03\n31.9,-0.07\n31.9,-0.17\n31.9,-0.26\n32.3,0.46\n32.3,0.37\n32.3,0.29\n32.3,0.21\n32.3,0.14\n32.3,0.06\n32.3,-0.01\n32.3,-0.09\n32.3,-0.21\n32.7,0.43\n32.7,0.34\n32.7,0.25\n32.7,0.18\n32.7,0.1\n32.7,0\n32.7,-0.08\n32.7,-0.15\n32.7,-0.29\n33.1,0.47\n33.1,0.39\n33.1,0.31\n33.1,0.22\n33.1,0.12\n33.1,0.04\n33.1,-0.04\n33.1,-0.13\n33.1,-0.23\n33.6,0.44\n33.6,0.35\n33.6,0.27\n33.6,0.16\n33.6,0.08\n33.6,-0.02\n33.6,-0.11\n33.6,-0.19\n33.6,-0.33\n34,0.41\n34,0.32\n34,0.23\n34,0.14\n34,0.05\n34,-0.05\n34,-0.16\n34,-0.27\n34.4,0.45\n34.4,0.36\n34.4,0.26\n34.4,0.19\n34.4,0.09\n34.4,0.01\n34.4,-0.08\n34.4,-0.22\n34.8,0.4\n34.8,0.3\n34.8,0.21\n34.8,0.11\n34.8,0.03\n34.8,-0.06\n34.8,-0.14\n34.8,-0.3\n35.3,0.52\n35.3,0.43\n35.3,0.33\n35.3,0.24\n35.3,0.13\n35.3,0.04\n35.3,-0.04\n35.3,-0.18\n35.7,0.47\n35.7,0.38\n35.7,0.27\n35.7,0.17\n35.7,0.07\n35.7,-0.02\n35.7,-0.12\n35.7,-0.25\n36.1,0.43\n36.1,0.32\n36.1,0.2\n36.1,0.1\n36.1,0\n36.1,-0.09\n36.1,-0.21\n36.5,0.52\n36.5,0.38\n36.5,0.28\n36.5,0.15\n36.5,0.05\n36.5,-0.05\n36.5,-0.15\n36.5,-0.28\n37,0.46\n37,0.35\n37,0.23\n37,0.12\n37,0.02\n37,-0.08\n37,-0.19\n37.4,0.41\n37.4,0.3\n37.4,0.18\n37.4,0.08\n37.4,-0.03\n37.4,-0.13\n37.4,-0.24\n37.8,0.48\n37.8,0.36\n37.8,0.25\n37.8,0.14\n37.8,0.03\n37.8,-0.06\n37.8,-0.17\n38.3,0.44\n38.3,0.31\n38.3,0.2\n38.3,0.09\n38.3,-0.01\n38.3,-0.11\n38.7,0.39\n38.7,0.27\n38.7,0.16\n38.7,0.05\n38.7,-0.05\n38.7,-0.15\n39.1,0.45\n39.1,0.33\n39.1,0.22\n39.1,0.11\n39.1,0\n39.1,-0.09\n39.5,0.38\n39.5,0.26\n39.5,0.14\n39.5,0.04\n39.5,-0.06\n30.45,0.71\n31.87,0.75\n31.53,0.7\n31.7,0.68\n32.44,0.67\n33.35,0.67\n33.52,0.64\n34.03,0.62\n36.53,0.75\n36.44,0.69\n36.82,0.68\n36.59,0.64\n35.34,0.66\n35.68,0.66\n35.38,0.61\n35.78,0.6\n35.05,0.58\n35.17,0.56\n35,0.82\n35.09,0.78\n37.73,0.81\n30.49,0.62\n31.19,0.63\n31.36,0.61\n30.68,0.58\n32.99,0.6\n32.86,0.57\n33.14,0.59\n33.79,0.59\n32.84,0.53\n31.97,0.54\n31.68,0.47\n33.75,0.55\n33.96,0.5\n34.37,0.53\n34.62,0.52\n36.25,0.56\n36.76,0.55\n37.56,0.53\n38.24,0.53\n39.2,0.56\n39.37,0.49\n37.94,0.5\n38.13,0.49\n30.07,0.57\n30.26,0.54\n30.45,0.53\n29.82,0.56\n30.96,0.49\n31.57,0.5\n32,0.49\n32.48,0.48\n33.45,0.49\n34.05,0.5\n34.9,0.46\n35.09,0.42\n36.02,0.51\n36.16,0.49\n35.7,0.49\n36.76,0.5\n37.8,0.44\n38.07,0.52\n38.83,0.47\n39.2,0.42\n39.45,0.4\n39.85,0.41\n35.95,0.41\n36.33,0.41\n36.7,0.43\n37.27,0.36\n37.65,0.36\n39.09,-0.19\n39.26,-0.36\n39.04,-0.53\n39.68,-0.73\n38.55,-0.33\n38.13,-0.25\n38.41,-0.25\n37.8,-0.29\n38.03,-0.28\n37.99,-0.35\n38.03,-0.38\n37.9,-0.4\n38.03,-0.41\n38.52,-0.46\n37.48,-0.61\n37.99,-0.58\n38.22,-0.59\n38.46,-0.62\n38.55,-0.69\n37.9,-0.69\n37.5,-0.49\n37.3,-0.47\n36.84,-0.53\n37.37,-0.54\n36.93,-0.81\n36,-0.82\n35.45,-0.82\n37.04,-0.71\n35.09,-0.7\n36.7,-0.33\n36.36,-0.31\n36.02,-0.32\n35.85,-0.34\n35.7,-0.43\n36,-0.44\n36.16,-0.5\n36,-0.52\n36,-0.58\n35.77,-0.6\n37.21,-0.35\n37.27,-0.46\n35.36,-0.56\n34.03,-0.86\n34.03,-0.91\n31.02,-0.93\n31.36,-0.71\n32.53,-0.7\n32.5,-0.65\n32.84,-0.65\n31.53,-0.64\n32.16,-0.6\n30.96,-0.54\n31.36,-0.5\n31.11,-0.45\n31.45,-0.45\n32.53,-0.51\n32.38,-0.45\n33.29,-0.55\n33.57,-0.54\n33.75,-0.59\n34.01,-0.62\n34.03,-0.65\n34.43,-0.61\n34.03,-0.49\n34.14,-0.52\n34.58,-0.55\n34.81,-0.49\n34.51,-0.48\n34.05,-0.4\n34.16,-0.38\n33.94,-0.38\n32.82,-0.41\n31.95,-0.38\n32.38,-0.39\n32.29,-0.36\n31.24,-0.39\n30.94,-0.36\n30.79,-0.35\n37.4,-0.41\n37.86,-0.23\n30.17,-0.2\n29.69,-0.22\n29.88,-0.28\n29.5,-0.26\n31.21,-0.27\n30.83,-0.34\n32.06,-0.33\n32.35,-0.3\n32.73,-0.28\n33.1,-0.33\n33.58,-0.29\n33.86,-0.27\n35,-0.21\n36.14,-0.3\n37.94,-0.22\n27.6,-0.14\n28.2,-0.16\n28.8,-0.15\n29.3,-0.14\n30.5,-0.13\n31.4,-0.15\n32,-0.16\n40,0.73\n40,0.68\n40,0.66\n40,0.64\n40,0.62\n40,0.6\n40,0.58\n40,0.56\n40,0.54\n40,0.52\n40,0.5\n40,0.48\n40,0.46\n40,0.44\n40,0.42\n40,0.4\n40,0.38\n40,0.35\n40,0.33\n40,0.31\n40,0.29\n40,0.27\n40,0.25\n40,0.23\n40,0.21\n40,0.19\n40,0.17\n40,0.15\n40,0.13\n40,0.11\n40,0.09\n40,0.07\n40,0.05\n40,0.03\n40,0.01\n40,-0.01\n40,-0.03\n40,-0.05\n40,-0.07\n40,-0.09\n40,-0.11\n40,-0.13\n40,-0.15\n40,-0.17\n40,-0.19\n40,-0.21\n40,-0.23\n40,-0.25\n40,-0.27\n40,-0.29\n40,-0.31\n40,-0.33\n40,-0.36\n40,-0.38\n40,-0.4\n40,-0.42\n40,-0.44\n40,-0.46\n40,-0.48\n40,-0.5\n40,-0.52\n40,-0.54\n40,-0.56\n40,-0.58\n40,-0.6\n40,-0.62\n40,-0.64\n40,-0.66\n40,-0.68\n40,-0.7\n40,-0.72\n40,-0.74\n40,-0.75\n40,-0.86\n40,-0.87\n40,-0.9\n"
  },
  "mark": {
    "type": "circle",
    "size": 68,
    "color": "#1f77b4",
    "opacity": 0.75,
    "stroke": "white",
    "strokeWidth": 0.8
  },
  "encoding": {
    "x": {
      "field": "hours",
      "type": "quantitative",
      "title": "Weekly GenAI Hours",
      "scale": {"domain": [-2, 42], "nice": false, "zero": false},
      "axis": {"values": [0, 5, 10, 15, 20, 25, 30, 35, 40], "labelPadding": 3, "titlePadding": 7}
    },
    "y": {
      "field": "gpa_change",
      "type": "quantitative",
      "title": "GPA Improvement (Post-Semester GPA - Pre-Semester GPA)",
      "scale": {"domain": [-1.02, 1.098], "nice": false, "zero": false},
      "axis": {"values": [-1, -0.75, -0.5, -0.25, 0, 0.25, 0.5, 0.75, 1], "format": ".2f", "labelPadding": 5, "titlePadding": 5}
    }
  },
  "config": {
    "font": "DejaVu Sans",
    "background": "white",
    "view": {"stroke": "black", "strokeWidth": 1.1},
    "axis": {
      "zindex": 1,
      "grid": true,
      "gridColor": "#b0b0b0",
      "gridDash": [4, 2],
      "gridWidth": 1.1,
      "gridOpacity": 0.75,
      "domainColor": "black",
      "domainWidth": 1.1,
      "tickColor": "black",
      "tickSize": 4.9,
      "tickWidth": 1.1,
      "labelFontSize": 13.9,
      "labelColor": "black",
      "titleFontSize": 13.9,
      "titleFontWeight": "normal",
      "titleColor": "black"
    }
  }
}
